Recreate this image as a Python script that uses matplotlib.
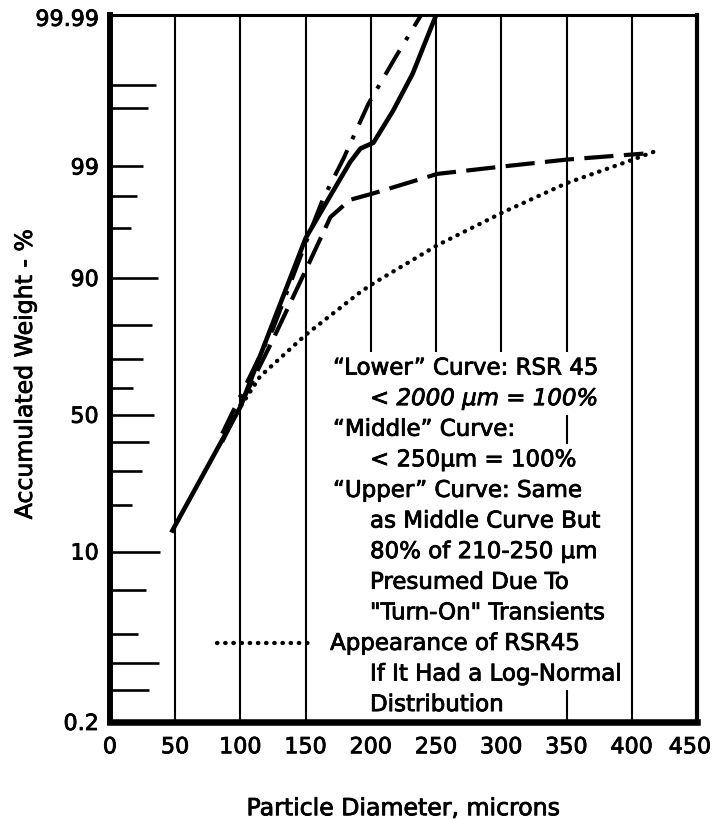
import math
import numpy as np
import matplotlib
matplotlib.use('Agg')
import matplotlib.pyplot as plt
import matplotlib.patheffects as pe
from matplotlib.transforms import ScaledTranslation

plt.rcParams['font.family'] = ['DejaVu Sans']

# particle diameter (microns) vs accumulated weight (%)
lower_x = [86, 125, 150, 169, 184, 202, 251, 301, 350, 409]
lower_y = [40, 76, 91.2, 96.8, 97.8, 98.1, 98.8, 99.0, 99.16, 99.28]

middle_x = [47, 100, 150, 169, 184, 192, 202, 217, 232, 251]
middle_y = [13.5, 53, 95.1, 98.0, 99.1, 99.37, 99.46, 99.78, 99.93, 99.992]

upper_x = [86, 125, 150, 163, 179, 198, 219, 240]
upper_y = [43, 79, 94.6, 97.8, 99.18, 99.82, 99.96, 99.992]

lognormal_x = [90, 100, 115, 150, 192, 202, 251, 301, 350, 399, 420]
lognormal_y = [46, 53, 64, 77.3, 87.5, 89.1, 94.4, 97.1, 98.5, 99.14, 99.34]

x_ticks = [0, 50, 100, 150, 200, 250, 300, 350, 400, 450]
y_ticks = [0.2, 10, 50, 90, 99, 99.99]
y_ticklabels = ['0.2', '10', '50', '90', '99', '99.99']

# hand drawn probability rulings on the left edge
ruling_pct = [99.9, 99.8, 99, 98, 96, 90, 80, 70, 60, 50, 40, 30, 20, 10, 5, 2, 1, 0.5]
ruling_len = [46, 38, 33, 27, 21, 48, 42, 33, 23, 44, 39, 32, 22, 50, 36, 28, 49, 39]

note_lines = [
    '\u201cLower\u201d Curve: RSR 45',
    '< 2000 \u03bcm = 100%',
    '\u201cMiddle\u201d Curve:',
    '< 250\u03bcm = 100%',
    '\u201cUpper\u201d Curve: Same',
    'as Middle Curve But',
    '80% of 210-250 \u03bcm',
    'Presumed Due To',
    '"Turn-On" Transients',
    'Appearance of RSR45',
    'If It Had a Log-Normal',
    'Distribution',
]


# normal probability scale (Acklam's approximation for the inverse cdf)
A = [-3.969683028665376e+01, 2.209460984245205e+02, -2.759285104469687e+02,
     1.383577518672690e+02, -3.066479806614716e+01, 2.506628277459239e+00]
B = [-5.447609879822406e+01, 1.615858368580409e+02, -1.556989798598866e+02,
     6.680131188771972e+01, -1.328068155288572e+01]
C = [-7.784894002430293e-03, -3.223964580411365e-01, -2.400758277161838e+00,
     -2.549732539343734e+00, 4.374664141464968e+00, 2.938163982698783e+00]
D = [7.784695709041462e-03, 3.224671290700398e-01, 2.445134137142996e+00,
     3.754408661907416e+00]


def probit(pct):
    p = np.clip(np.asarray(pct, dtype=float) / 100.0, 1e-9, 1 - 1e-9)
    q = p - 0.5
    r = q * q
    mid = (((((A[0] * r + A[1]) * r + A[2]) * r + A[3]) * r + A[4]) * r + A[5]) * q / \
          (((((B[0] * r + B[1]) * r + B[2]) * r + B[3]) * r + B[4]) * r + 1)
    t = np.sqrt(-2 * np.log(np.minimum(p, 1 - p)))
    tail = (((((C[0] * t + C[1]) * t + C[2]) * t + C[3]) * t + C[4]) * t + C[5]) / \
           ((((D[0] * t + D[1]) * t + D[2]) * t + D[3]) * t + 1)
    tail = np.where(p < 0.5, tail, -tail)
    return np.where(np.abs(q) <= 0.47575, mid, tail)


_erf = np.vectorize(math.erf)


def inv_probit(z):
    z = np.asarray(z, dtype=float)
    return 50.0 * (1 + _erf(z / math.sqrt(2)))


ink = [pe.withStroke(linewidth=0.6, foreground='black')]

fig = plt.figure(figsize=(7.16, 8.21), dpi=100)
ax = fig.add_axes([0.1536, 0.1206, 0.8198, 0.8611])
ax.set_yscale('function', functions=(probit, inv_probit))

ax.plot(middle_x, middle_y, color='black', lw=3.3, solid_capstyle='butt')
ax.plot(upper_x, upper_y, color='black', lw=2.9, dashes=(7, 3, 1, 3))
ax.plot(lower_x, lower_y, color='black', lw=3.0, dashes=(7, 2.5))
ax.plot(lognormal_x, lognormal_y, color='black', lw=3.1, dashes=(0.1, 1.8),
        dash_capstyle='round')

ax.set_xlim(0, 450)
ax.set_ylim(0.2, 99.991)
ax.set_xticks(x_ticks)
ax.set_yticks(y_ticks)
ax.set_yticklabels(y_ticklabels)
ax.yaxis.set_minor_locator(matplotlib.ticker.NullLocator())
ax.tick_params(axis='x', length=0, pad=11, labelsize=16)
ax.tick_params(axis='y', length=0, pad=8, labelsize=16)
ax.grid(axis='x', color='black', lw=1.5)

for lab in ax.get_xticklabels() + ax.get_yticklabels():
    lab.set_path_effects(ink)
last = ax.get_xticklabels()[-1]
last.set_transform(last.get_transform() + ScaledTranslation(-5 / 72, 0, fig.dpi_scale_trans))

ax.hlines(ruling_pct, 0, np.array(ruling_len) / 587.0, color='black', lw=1.9,
          transform=ax.get_yaxis_transform(), zorder=2)

for side, w in [('left', 4.3), ('bottom', 4.7), ('top', 2.2), ('right', 3.0)]:
    ax.spines[side].set_linewidth(w)

ax.set_xlabel('Particle Diameter, microns', fontsize=17, va='center', path_effects=ink)
ax.xaxis.set_label_coords(0.5, -0.122)
ax.set_ylabel('Accumulated Weight - %', fontsize=17, va='center', path_effects=ink)
ax.yaxis.set_label_coords(-0.145, 0.492)

# annotation block, each line on a white patch hiding the grid behind it
row_step = 30.6 / 707.0
for i, line in enumerate(note_lines):
    if i in (0, 2, 4):
        x0 = 0.380
    elif i == 9:
        x0 = 0.375
    else:
        x0 = 0.443
    style = 'italic' if i == 1 else 'normal'
    ax.text(x0, 0.5007 - i * row_step, line, transform=ax.transAxes,
            fontsize=16.5, style=style, ha='left', va='center', zorder=2.2,
            path_effects=ink,
            bbox=dict(boxstyle='square,pad=0.2', fc='white', ec='none'))

# dotted key for the log-normal curve
ax.plot([0.182, 0.346], [0.5007 - 9 * row_step] * 2, transform=ax.transAxes,
        color='black', lw=3.1, dashes=(0.1, 1.8), dash_capstyle='round', zorder=2.3)

fig.savefig('out.png', dpi=100)
